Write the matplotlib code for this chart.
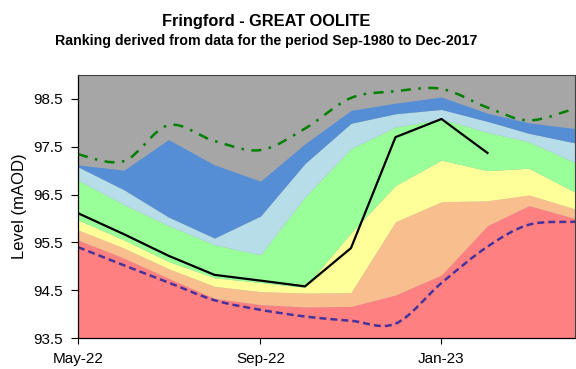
import datetime as dt
import matplotlib
matplotlib.use("Agg")
import matplotlib.pyplot as plt
import matplotlib.dates as mdates
from matplotlib.path import Path
from matplotlib.patches import PathPatch

plt.rcParams['font.family'] = ['Liberation Sans', 'DejaVu Sans']

# monthly points, May-22 to Apr-23
months = [dt.date(2022, m, 1) for m in range(5, 13)] + [dt.date(2023, m, 1) for m in range(1, 5)]

# upper edge of each ranking band (mAOD)
red_top    = [95.55, 95.17, 94.75, 94.33, 94.20, 94.15, 94.16, 94.40, 94.82, 95.85, 96.27, 96.00]
orange_top = [95.76, 95.38, 94.95, 94.58, 94.47, 94.44, 94.45, 95.93, 96.35, 96.37, 96.49, 96.20]
yellow_top = [95.97, 95.55, 95.10, 94.76, 94.66, 94.56, 95.70, 96.69, 97.22, 97.00, 97.05, 96.55]
green_top  = [96.80, 96.29, 95.85, 95.45, 95.24, 96.45, 97.46, 97.91, 98.08, 97.80, 97.60, 97.17]
lblue_top  = [97.08, 96.60, 96.03, 95.59, 96.05, 97.15, 97.99, 98.19, 98.28, 98.03, 97.78, 97.58]
blue_top   = [97.12, 97.01, 97.65, 97.12, 96.78, 97.56, 98.26, 98.41, 98.54, 98.20, 98.00, 97.88]

# record max / min levels
max_level = [97.34, 97.20, 97.95, 97.62, 97.43, 97.88, 98.52, 98.66, 98.71, 98.32, 98.05, 98.30]
min_level = [95.40, 95.02, 94.66, 94.29, 94.09, 93.95, 93.86, 93.80, 94.65, 95.41, 95.87, 95.93]

# current year readings (to Feb-23)
level = [96.11, 95.67, 95.22, 94.82, 94.70, 94.58, 95.38, 97.70, 98.08, 97.37]

Y_MIN, Y_MAX = 93.5, 99.0

band_colours = ['#FF8080', '#F8BE8E', '#FFFF99', '#99FF99', '#B7DDE8', '#558ED5']
grey = '#A6A6A6'


def smooth_path(xs, ys):
    # Catmull-Rom style bezier through the points (like a smoothed line)
    pts = list(zip(xs, ys))
    verts = [pts[0]]
    codes = [Path.MOVETO]
    n = len(pts)
    for i in range(n - 1):
        p0 = pts[i - 1] if i > 0 else pts[i]
        p1 = pts[i]
        p2 = pts[i + 1]
        p3 = pts[i + 2] if i + 2 < n else pts[i + 1]
        c1 = (p1[0] + (p2[0] - p0[0]) / 6, p1[1] + (p2[1] - p0[1]) / 6)
        c2 = (p2[0] - (p3[0] - p1[0]) / 6, p2[1] - (p3[1] - p1[1]) / 6)
        verts += [c1, c2, p2]
        codes += [Path.CURVE4] * 3
    return Path(verts, codes)


fig = plt.figure(figsize=(5.76, 3.69), dpi=100)
ax = fig.add_axes([78 / 576, 31 / 369, 497 / 576, 263 / 369])
ax.set_facecolor(grey)

x = mdates.date2num(months)
lower = [Y_MIN] * len(months)
for top, col in zip([red_top, orange_top, yellow_top, green_top, lblue_top, blue_top], band_colours):
    ax.fill_between(x, lower, top, color=col, lw=0)
    lower = top

ax.add_patch(PathPatch(smooth_path(x, max_level), fill=False, edgecolor='#008000',
                       lw=1.8, linestyle=(0, (4, 3, 1, 3))))
ax.add_patch(PathPatch(smooth_path(x, min_level), fill=False, edgecolor='#46329A',
                       lw=1.8, linestyle=(0, (2.8, 1.6))))
ax.plot(x[:len(level)], level, color='black', lw=1.6)

ax.set_xlim(mdates.date2num(dt.date(2022, 5, 1)), mdates.date2num(dt.date(2023, 4, 1)))
ax.set_ylim(Y_MIN, Y_MAX)
ax.set_yticks([93.5, 94.5, 95.5, 96.5, 97.5, 98.5])
ax.yaxis.set_major_formatter(matplotlib.ticker.FormatStrFormatter('%.1f'))
ax.xaxis.set_major_locator(mdates.MonthLocator(bymonth=[1, 5, 9]))
ax.xaxis.set_major_formatter(mdates.DateFormatter('%b-%y'))
ax.tick_params(axis='y', direction='out', length=5, width=0.8, labelsize=11, pad=6)
ax.tick_params(axis='x', direction='out', length=4, width=0.8, labelsize=11, pad=6)

for side in ['top', 'right']:
    ax.spines[side].set_color('#404040')
    ax.spines[side].set_linewidth(0.8)
for side in ['left', 'bottom']:
    ax.spines[side].set_color('black')
    ax.spines[side].set_linewidth(0.9)

ax.set_ylabel('Level (mAOD)', fontsize=12)
ax.yaxis.set_label_coords(-0.103, 0.5)

fig.text(266 / 576, 1 - 26 / 369, 'Fringford - GREAT OOLITE', ha='center', va='baseline',
         fontsize=11.8, fontweight='bold')
fig.text(266 / 576, 1 - 45 / 369, 'Ranking derived from data for the period Sep-1980 to Dec-2017',
         ha='center', va='baseline', fontsize=10.2, fontweight='bold')

fig.savefig('out.png', dpi=100)
